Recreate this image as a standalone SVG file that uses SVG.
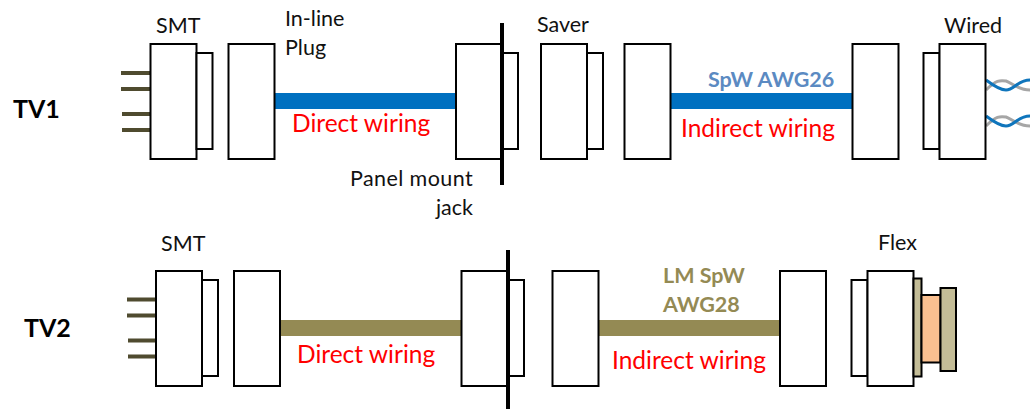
<svg xmlns="http://www.w3.org/2000/svg" width="1030" height="409" viewBox="0 0 1030 409">
<style>
text{font-family:"Lato","Liberation Sans",sans-serif;font-size:21.500px;fill:#111}
.b{fill:#fff;stroke:#000;stroke-width:2}
.t{font-weight:700;font-size:25px;fill:#000}
.r{fill:#f00;font-size:24.500px}
.bl{fill:#5b8ac2;font-weight:700;font-size:21.500px}
.ol{fill:#948a54;font-weight:700;font-size:21.500px}
.pin{stroke:#4f4b2f;stroke-width:4;fill:none}
.panel{stroke:#000;stroke-width:4}
.tw{fill:none;stroke-width:3}
</style>
<rect width="1030" height="409" fill="#fff"/>
<g id="connectors">
<path d="M275 101H456M671 101H852" stroke="#0070c0" stroke-width="16" fill="none"/>
<path d="M280 328H461M599 328H780" stroke="#948a54" stroke-width="16" fill="none"/>
<path class="pin" d="M121 73H150M121 89H150M122 114H150M122 130H150"/>
<path class="pin" d="M127 299.500H156M127 315.500H156M128 340.500H156M128 356.500H156"/>
<path class="tw" stroke="#a6a6a6" d="M986 90C996 80 1000 80 1006 81C1012 83 1018 90 1030 90"/>
<path class="tw" stroke="#0f75bc" d="M986 80C994 86 1000 90 1006 90C1014 90 1018 80 1030 80"/>
<path class="tw" stroke="#a6a6a6" d="M986 126C996 116 1000 116 1006 117C1012 119 1018 126 1030 126"/>
<path class="tw" stroke="#0f75bc" d="M986 116C994 122 1000 126 1006 126C1014 126 1018 116 1030 116"/>
</g>
<g id="tv1-smt"><rect class="b" x="150.500" y="44" width="46" height="115"/><rect class="b" x="196.500" y="53" width="16" height="96"/></g>
<g id="tv1-plug"><rect class="b" x="228.500" y="44" width="46" height="115"/></g>
<g id="tv1-jack"><rect class="b" x="456" y="44" width="46" height="115"/><rect class="b" x="502" y="53" width="16" height="96"/><path class="panel" d="M502 23V185"/></g>
<g id="tv1-saver"><rect class="b" x="541" y="44" width="46" height="115"/><rect class="b" x="587" y="53" width="16" height="96"/></g>
<g id="tv1-plug2"><rect class="b" x="624.500" y="44" width="46" height="115"/></g>
<g id="tv1-plug3"><rect class="b" x="852.500" y="44" width="46" height="115"/></g>
<g id="tv1-wired"><rect class="b" x="923.500" y="53" width="16" height="96"/><rect class="b" x="939.500" y="44" width="46" height="115"/></g>
<g id="tv2-smt"><rect class="b" x="156" y="271" width="46" height="115"/><rect class="b" x="202" y="280" width="16" height="96"/></g>
<g id="tv2-plug"><rect class="b" x="234" y="271" width="46" height="115"/></g>
<g id="tv2-jack"><rect class="b" x="461.500" y="271" width="46" height="115"/><rect class="b" x="508" y="280" width="16" height="96"/><path class="panel" d="M508 250V409"/></g>
<g id="tv2-plug2"><rect class="b" x="552.500" y="271" width="46" height="115"/></g>
<g id="tv2-plug3"><rect class="b" x="780" y="271" width="46" height="115"/></g>
<g id="tv2-flex">
<rect class="b" x="851.500" y="280" width="16" height="96"/><rect class="b" x="867.500" y="271" width="46" height="115"/>
<rect x="913.500" y="278.500" width="8" height="98" fill="#c4bd97" stroke="#000" stroke-width="2"/>
<rect x="921.500" y="295" width="19" height="67.500" fill="#fac090" stroke="#000" stroke-width="2"/>
<rect x="940.500" y="288" width="15.500" height="83" fill="#c4bd97" stroke="#000" stroke-width="2"/>
</g>
<g id="labels">
<text class="t" x="13" y="118">TV1</text>
<text class="t" x="24" y="337">TV2</text>
<text x="156" y="33">SMT</text>
<text x="285" y="26">In-line</text>
<text x="285" y="55">Plug</text>
<text x="537" y="32">Saver</text>
<text x="944" y="33">Wired</text>
<text x="473" y="186" text-anchor="end" letter-spacing="0.400">Panel mount</text>
<text x="473" y="215" text-anchor="end">jack</text>
<text x="161" y="251">SMT</text>
<text x="878" y="250">Flex</text>
<text class="r" x="292" y="132">Direct wiring</text>
<text class="r" x="681" y="137">Indirect wiring</text>
<text class="r" x="297" y="363">Direct wiring</text>
<text class="r" x="612" y="369">Indirect wiring</text>
<text class="bl" x="708" y="87">SpW AWG26</text>
<text class="ol" x="663" y="283">LM SpW</text>
<text class="ol" x="663" y="312">AWG28</text>
</g>
</svg>
